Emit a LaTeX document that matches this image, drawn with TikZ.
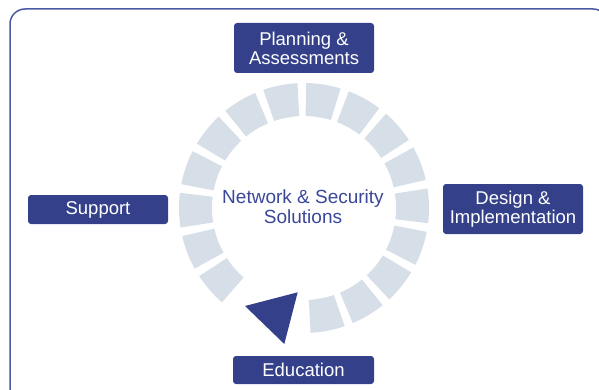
\documentclass[tikz,border=0pt]{standalone}
\usepackage{fontspec}
\setmainfont{Liberation Sans}
\usetikzlibrary{calc}
\definecolor{navy}{HTML}{34418A}
\definecolor{framec}{HTML}{4B5AA3}
\definecolor{segc}{HTML}{D6DFE8}
\definecolor{textc}{HTML}{3A4799}
\begin{document}
\begin{tikzpicture}[x=1pt,y=1pt,
  box/.style={fill=navy, rounded corners=3pt, text=white, align=center,
    inner sep=0pt, font=\fontsize{18.5}{19}\selectfont},
  seg/.style={fill=segc}]
\useasboundingbox (0,0) rectangle (599,389);
\begin{scope}
\clip (0,0) rectangle (599,389);
\draw[framec, line width=1.5pt, rounded corners=15pt] (10,-15) rectangle (608,380);
\end{scope}
% ring segments
\coordinate (c) at (304,181);
\foreach \a in {1,21,...,221,-19,-39,-59,-79}{
  \fill[seg] ($(c)+({\a-8}:125)$) arc[start angle=\a-8, end angle=\a+8, radius=125]
    -- ($(c)+({\a+8}:92)$) arc[start angle=\a+8, end angle=\a-8, radius=92] -- cycle;
}
% triangle
\fill[navy] (245,83) -- (297.7,96.7) -- (284.3,45) -- cycle;
% boxes
\node[box, minimum width=140pt, minimum height=50pt] (plan) at (304,341) {Planning \&\\Assessments};
\node[box, minimum width=140pt, minimum height=29pt] (support) at (98,179.5) {Support};
\node[box, minimum width=140pt, minimum height=50pt] (design) at (513,180) {Design \&\\Implementation};
\node[box, minimum width=141pt, minimum height=28pt] (edu) at (303.5,19) {Education};
\node[text=textc, align=center, font=\fontsize{19}{20}\selectfont] (center) at (303,182) {Network \& Security\\Solutions};
\end{tikzpicture}
\end{document}
